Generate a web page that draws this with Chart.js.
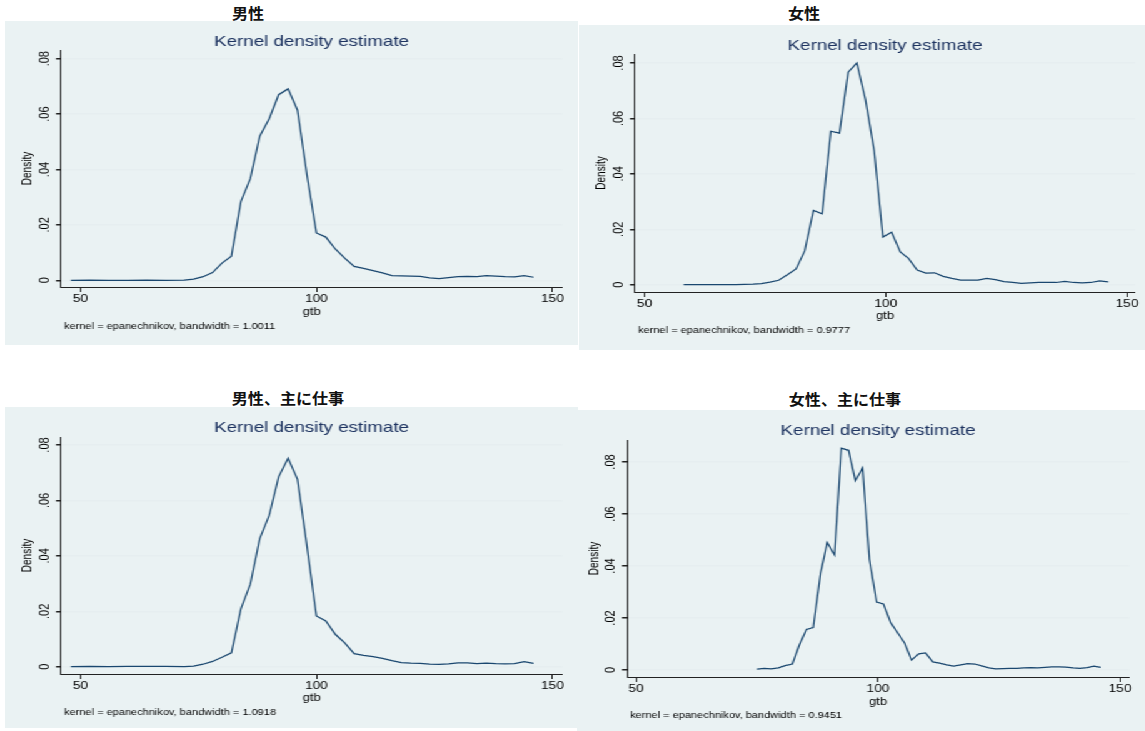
<!DOCTYPE html>
<html>
<head>
<meta charset="utf-8">
<script src="https://cdn.jsdelivr.net/npm/chart.js@4.4.1/dist/chart.umd.min.js"></script>
<style>
  body { margin: 0; background: #fff; width: 1145px; height: 731px; overflow: hidden; position: relative; }
  .panel { position: absolute; background: #eaf2f3; transform-origin: 0 0; transform: scaleX(1.25); }
  .panel canvas { display: block; }
  .head { position: absolute; font: bold 15px "Noto Sans CJK JP", sans-serif; color: #111;
          transform: translate(-50%, -50%) scaleX(1.07); white-space: nowrap; }
</style>
</head>
<body>
<div id="root"></div>
<script>
// kdensity gtb, four groups
const gtbMale = [48, 52, 56, 60, 64, 68, 72, 74, 76, 78, 80, 82, 84, 86, 88, 90, 92, 94, 96, 98, 100,
  102, 104, 106, 108, 110, 112, 114, 116, 118, 120, 122, 124, 126, 128, 130, 132, 134, 136, 138, 140, 142, 144, 146];
const densMale = [0.0000, 0.0001, 0.0000, 0.0000, 0.0001, 0.0000, 0.0001, 0.0004, 0.0013, 0.0028, 0.0062, 0.0087,
  0.0284, 0.0367, 0.0520, 0.0583, 0.0670, 0.0691, 0.0614, 0.0380, 0.0171, 0.0156, 0.0113, 0.0080, 0.0050, 0.0043,
  0.0035, 0.0027, 0.0017, 0.0016, 0.0015, 0.0014, 0.0009, 0.0006, 0.0010, 0.0013, 0.0014, 0.0013, 0.0017, 0.0015,
  0.0013, 0.0012, 0.0017, 0.0011];

const gtbFemale = [58.1, 63.5, 68.9, 72.5, 74.2, 76.0, 77.8, 79.6, 81.4, 83.2, 85.0, 86.8, 88.6, 90.4, 92.2, 94.0,
  95.8, 97.6, 99.4, 101.2, 103.0, 104.7, 106.5, 108.3, 110.1, 111.9, 113.7, 115.5, 117.3, 119.1, 120.9, 122.7,
  124.5, 126.3, 128.1, 129.9, 131.7, 133.5, 135.3, 137.1, 138.9, 140.7, 142.5, 144.3, 146.1];
const densFemale = [0.0000, 0.0000, 0.0000, 0.0002, 0.0004, 0.0009, 0.0016, 0.0036, 0.0057, 0.0122, 0.0268, 0.0256,
  0.0554, 0.0547, 0.0767, 0.0800, 0.0667, 0.0483, 0.0172, 0.0189, 0.0118, 0.0095, 0.0053, 0.0042, 0.0043, 0.0030,
  0.0023, 0.0017, 0.0017, 0.0017, 0.0023, 0.0018, 0.0011, 0.0008, 0.0005, 0.0007, 0.0008, 0.0008, 0.0008, 0.0012,
  0.0008, 0.0007, 0.0008, 0.0014, 0.0010];

const gtbMaleWork = [48, 52, 56, 60, 64, 68, 72, 74, 76, 78, 80, 82, 84, 86, 88, 90, 92, 94, 96, 98, 100,
  102, 104, 106, 108, 110, 112, 114, 116, 118, 120, 122, 124, 126, 128, 130, 132, 134, 136, 138, 140, 142, 144, 146];
const densMaleWork = [0.0000, 0.0001, 0.0000, 0.0001, 0.0001, 0.0001, 0.0000, 0.0002, 0.0009, 0.0019, 0.0034, 0.0050,
  0.0209, 0.0298, 0.0462, 0.0546, 0.0685, 0.0752, 0.0676, 0.0435, 0.0183, 0.0165, 0.0117, 0.0086, 0.0047, 0.0041,
  0.0036, 0.0030, 0.0022, 0.0015, 0.0013, 0.0012, 0.0009, 0.0008, 0.0010, 0.0014, 0.0014, 0.0011, 0.0013, 0.0011,
  0.0010, 0.0011, 0.0018, 0.0012];

const gtbFemaleWork = [75.0, 76.5, 77.9, 79.4, 80.8, 82.3, 83.7, 85.2, 86.6, 88.1, 89.5, 91.0, 92.4, 93.9, 95.3,
  96.8, 98.2, 99.7, 101.1, 102.6, 104.0, 105.5, 106.9, 108.4, 109.8, 111.3, 112.7, 114.2, 115.6, 117.1, 118.5,
  120.0, 121.4, 122.9, 124.3, 125.8, 127.2, 128.7, 130.1, 131.6, 133.0, 134.5, 135.9, 137.4, 138.8, 140.3, 141.7,
  143.2, 144.6, 146.0];
const densFemaleWork = [0.0003, 0.0006, 0.0004, 0.0008, 0.0017, 0.0023, 0.0095, 0.0156, 0.0163, 0.0372, 0.0490,
  0.0442, 0.0853, 0.0845, 0.0728, 0.0777, 0.0426, 0.0261, 0.0254, 0.0182, 0.0144, 0.0103, 0.0038, 0.0062, 0.0066,
  0.0031, 0.0026, 0.0020, 0.0015, 0.0020, 0.0024, 0.0023, 0.0016, 0.0008, 0.0004, 0.0005, 0.0006, 0.0006, 0.0008,
  0.0009, 0.0008, 0.0010, 0.0012, 0.0012, 0.0011, 0.0008, 0.0006, 0.0009, 0.0015, 0.0010];

const yTicks = [0, 0.02, 0.04, 0.06, 0.08];
const yTickLabels = ['0', '.02', '.04', '.06', '.08'];
const xTicks = [50, 100, 150];
const bandwidths = ['1.0011', '0.9777', '1.0918', '0.9451'];
const groupTitles = ['男性', '女性', '男性、主に仕事', '女性、主に仕事'];

const navy = '#1a476f';
const titleNavy = '#1e3461';

// layout of the four panels (canvas units are before the 1.25 horizontal stretch)
const panels = [
  { xs: gtbMale, ys: densMale, head: [248, 12], left: 5, top: 21, w: 458, h: 324,
    x: [45.91, 152.05], y: [-0.00242, 0.08314], yW: 44.8, padR: 12.4, tGap: 0.5, xH: 31, nTop: 4.6, nBot: 13.6, dPad: 12.2 },
  { xs: gtbFemale, ys: densFemale, head: [804, 12], left: 579, top: 25, w: 453, h: 325,
    x: [48.03, 151.66], y: [-0.00263, 0.08325], yW: 44.8, padR: 8.2, tGap: 0.5, xH: 30, nTop: 4.6, nBot: 14.6, dPad: 12.6 },
  { xs: gtbMaleWork, ys: densMaleWork, head: [288, 397], left: 5, top: 407, w: 458, h: 321,
    x: [45.91, 152.05], y: [-0.00263, 0.08289], yW: 44.8, padR: 12.4, tGap: 1.5, xH: 30, nTop: 4.6, nBot: 10.6, dPad: 12.2 },
  { xs: gtbFemaleWork, ys: densFemaleWork, head: [845, 398], left: 577, top: 410, w: 454, h: 321,
    x: [48.14, 151.86], y: [-0.0027, 0.08846], yW: 40, padR: 12.4, tGap: 1.5, xH: 31, nTop: 3.6, nBot: 10.6, dPad: 8.6 }
];

Chart.defaults.font.family = "'Liberation Sans', Arial, sans-serif";
Chart.defaults.color = '#000';

const root = document.getElementById('root');

panels.forEach((p, i) => {
  const head = document.createElement('div');
  head.className = 'head';
  head.style.left = p.head[0] + 'px';
  head.style.top = p.head[1] + 'px';
  head.textContent = groupTitles[i];
  root.appendChild(head);

  const box = document.createElement('div');
  box.className = 'panel';
  box.style.left = p.left + 'px';
  box.style.top = p.top + 'px';
  const canvas = document.createElement('canvas');
  canvas.width = p.w;
  canvas.height = p.h;
  box.appendChild(canvas);
  root.appendChild(box);

  new Chart(canvas, {
    type: 'line',
    data: {
      datasets: [{
        data: p.xs.map((x, k) => ({ x: x, y: p.ys[k] })),
        borderColor: navy,
        borderWidth: 1.25,
        pointRadius: 0,
        tension: 0,
        fill: false
      }]
    },
    options: {
      responsive: false,
      animation: false,
      devicePixelRatio: 1,
      layout: { padding: { left: 0, top: 0, right: p.padR, bottom: 0 } },
      plugins: {
        legend: { display: false },
        tooltip: { enabled: false },
        title: {
          display: true,
          fullSize: false,
          text: 'Kernel density estimate',
          color: titleNavy,
          font: { size: 15, weight: 'normal', lineHeight: 1 },
          padding: { top: 13.5, bottom: p.tGap }
        },
        subtitle: {
          display: true,
          fullSize: false,
          position: 'bottom',
          align: 'start',
          text: ' kernel = epanechnikov, bandwidth = ' + bandwidths[i],
          color: '#000',
          font: { size: 8.8, lineHeight: 1 },
          padding: { top: p.nTop, bottom: p.nBot }
        }
      },
      scales: {
        x: {
          type: 'linear',
          min: p.x[0],
          max: p.x[1],
          afterBuildTicks: s => { s.ticks = xTicks.map(v => ({ value: v })); },
          afterFit: s => { s.height = p.xH; },
          grid: { drawOnChartArea: false, drawTicks: true, tickLength: 5, tickColor: '#222' },
          border: { color: '#222', width: 1 },
          ticks: { font: { size: 11 }, padding: 0, maxRotation: 0, callback: v => String(v) },
          title: { display: true, text: 'gtb', font: { size: 10.5 }, padding: 0 }
        },
        y: {
          type: 'linear',
          min: p.y[0],
          max: p.y[1],
          afterBuildTicks: s => { s.ticks = yTicks.map(v => ({ value: v })); },
          afterFit: s => { s.width = p.yW; },
          grid: { color: '#e6eef0', lineWidth: 1.5, drawTicks: true, tickLength: 4, tickColor: '#222' },
          border: { color: '#222', width: 1 },
          ticks: { font: { size: 11 }, padding: 1, minRotation: 90, maxRotation: 90, crossAlign: 'center',
                   callback: (v, k) => yTickLabels[k] },
          title: { display: true, text: 'Density', font: { size: 10 }, padding: { top: p.dPad, bottom: 0 } }
        }
      }
    }
  });
});
</script>
</body>
</html>
